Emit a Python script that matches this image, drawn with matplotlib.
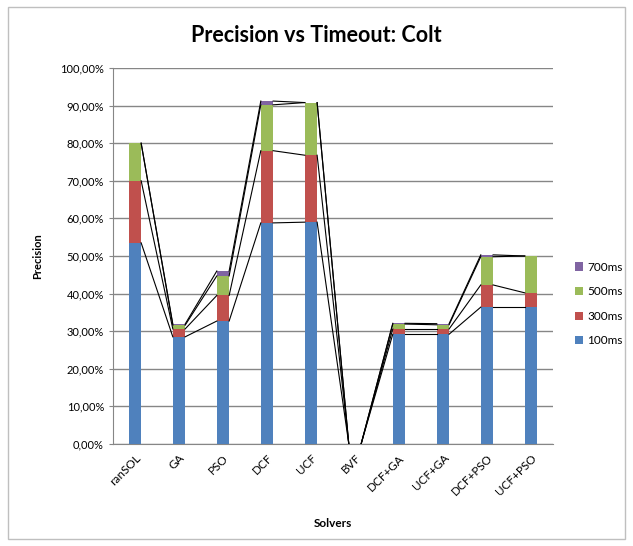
import numpy as np
import matplotlib.pyplot as plt
from matplotlib.patches import Rectangle
from matplotlib.ticker import FuncFormatter

plt.rcParams['font.family'] = ['Lato', 'DejaVu Sans']

solvers = ["ranSOL", "GA", "PSO", "DCF", "UCF", "BVF",
           "DCF+GA", "UCF+GA", "DCF+PSO", "UCF+PSO"]
timeouts = ["100ms", "300ms", "500ms", "700ms"]
# cumulative precision (%) reached at each timeout
prec_100 = [53.5, 28.5, 32.7, 58.8, 59.0, 0.0, 29.2, 29.2, 36.4, 36.4]
prec_300 = [70.0, 30.6, 39.5, 78.0, 76.8, 0.0, 30.6, 30.6, 42.3, 40.2]
prec_500 = [80.0, 31.6, 44.7, 90.2, 90.8, 0.0, 31.9, 31.7, 49.8, 50.0]
prec_700 = [80.0, 31.9, 46.0, 91.2, 90.8, 0.0, 32.1, 32.0, 50.3, 50.0]
colors = ["#4F81BD", "#C0504D", "#9BBB59", "#8064A2"]

cum = np.array([prec_100, prec_300, prec_500, prec_700])
x = np.arange(len(solvers))
w = 0.28

fig = plt.figure(figsize=(6.33, 5.46), dpi=100)
ax = fig.add_axes([0.1785, 0.1868, 0.695, 0.6887])

bottom = np.zeros(len(solvers))
for i, lab in enumerate(timeouts):
    h = cum[i] - bottom
    ax.bar(x, h, w, bottom=bottom, color=colors[i], label=lab, zorder=3)
    bottom = cum[i]

# series lines between neighbouring columns
for i in range(len(timeouts)):
    for j in range(len(solvers) - 1):
        ax.plot([x[j] + w / 2, x[j + 1] - w / 2], [cum[i][j], cum[i][j + 1]],
                color="black", lw=0.8, zorder=4)

ax.set_xlim(-0.5, len(solvers) - 0.5)
ax.set_ylim(0, 100)
ax.set_yticks(np.arange(0, 101, 10))
ax.yaxis.set_major_formatter(FuncFormatter(lambda v, p: f"{v:.2f}%".replace(".", ",")))
ax.grid(axis="y", color="#868686", lw=1, zorder=0)
ax.set_xticks(x)
ax.set_xticklabels(solvers, rotation=45, ha="right", rotation_mode="anchor")
ax.tick_params(axis="x", length=0, labelsize=8.5, pad=6)
ax.tick_params(axis="y", length=3, labelsize=8, color="#868686")
for s in ["top", "right"]:
    ax.spines[s].set_visible(False)
for s in ["left", "bottom"]:
    ax.spines[s].set_color("#868686")

ax.set_xlabel("Solvers", fontsize=8.5, fontweight="bold", labelpad=15)
ax.set_ylabel("Precision", fontsize=8, fontweight="bold", labelpad=12)
fig.suptitle("Precision vs Timeout: Colt", fontsize=15.5, fontweight="bold", y=0.955)

h, l = ax.get_legend_handles_labels()
ax.legend(h[::-1], l[::-1], loc="center left", bbox_to_anchor=(1.025, 0.372),
          frameon=False, fontsize=8.5, handlelength=0.7, handleheight=0.7,
          labelspacing=1.15, handletextpad=0.4)

fig.patches.append(Rectangle((0.012, 0.012), 0.976, 0.976, transform=fig.transFigure,
                             fill=False, edgecolor="#BFBFBF", lw=1))

fig.savefig("out.png", dpi=100)
